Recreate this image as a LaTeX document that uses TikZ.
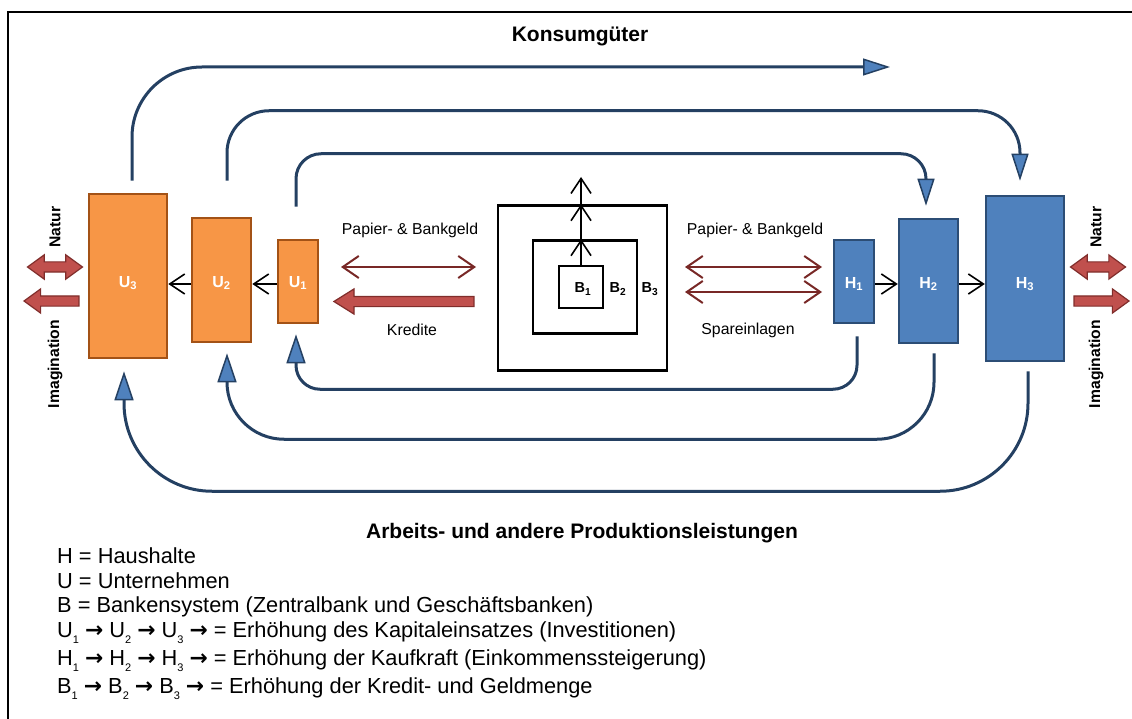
\documentclass[tikz,border=0pt]{standalone}
\usepackage{fontspec}
\setmainfont{Liberation Sans}
\newfontfamily\arrowfont{DejaVu Sans}
\usetikzlibrary{positioning, arrows.meta, calc, shapes.arrows}
\definecolor{ufill}{RGB}{247,150,70}
\definecolor{uline}{RGB}{163,82,22}
\definecolor{hfill}{RGB}{79,129,189}
\definecolor{hline}{RGB}{44,77,117}
\definecolor{loopblue}{RGB}{36,64,98}
\definecolor{moneyred}{RGB}{120,40,38}
\definecolor{blockred}{RGB}{192,80,77}
\definecolor{blockline}{RGB}{128,45,43}
\newcommand\lowsub[1]{\raisebox{-6.5pt}{\fontsize{11}{11}\selectfont #1}}
\newcommand\rarr{{\arrowfont\bfseries →}}

\begin{document}
\begin{tikzpicture}[x=1pt, y=-1pt,
  ubox/.style={draw=uline, fill=ufill, line width=2.5pt, inner sep=0pt, text=white,
               font=\fontsize{16}{16}\selectfont\bfseries},
  hbox/.style={ubox, draw=hline, fill=hfill},
  bbox/.style={draw, line width=2.5pt, inner sep=0pt},
  blabel/.style={font=\fontsize{14.5}{15}\selectfont\bfseries},
  boxlabel/.style={text=white, font=\fontsize{16}{16}\selectfont\bfseries},
  money/.style={moneyred, line width=2pt,
                {Straight Barb[length=16pt,width=22pt]}-{Straight Barb[length=16pt,width=22pt]}},
  growarrow/.style={line width=1.6pt, -{Straight Barb[length=15pt,width=20pt]}},
  loopline/.style={loopblue, line width=3pt,
                   -{Triangle[length=27pt,width=17pt,fill=hfill,line width=1.5pt]}},
  backloop/.style={loopline, -{Triangle[length=29pt,width=19pt,fill=hfill,line width=1.5pt]}},
  natarrow/.style={draw=blockline, fill=blockred, line width=1.2pt, inner xsep=0pt,
                   inner ysep=4.5pt, minimum height=55pt},
  dblock/.style={natarrow, double arrow, double arrow head extend=7pt, double arrow tip angle=72},
  sblock/.style={natarrow, single arrow, single arrow head extend=7pt, single arrow tip angle=72},
  side/.style={rotate=90, font=\fontsize{15.7}{16}\selectfont\bfseries},
  flowlabel/.style={font=\fontsize{15.8}{18}\selectfont},
  heading/.style={anchor=base, font=\fontsize{21}{25}\selectfont\bfseries},
  legend/.style={anchor=base west, inner sep=0pt, font=\fontsize{21.8}{25}\selectfont}
]
  \useasboundingbox (0,0) rectangle (1132,719);
  \draw[line width=2pt] (8,719) -- (8,12) -- (1132,12);

  % Unternehmen
  \node[ubox, minimum width=78, minimum height=164] (u3) at (128,276) {};
  \node[ubox, minimum width=59, minimum height=124] (u2) at (221.5,280) {};
  \node[ubox, minimum width=40, minimum height=83] (u1) at (298,281.5) {};
  \node[boxlabel] (u3label) at (128,283) {U\textsubscript{3}};
  \node[boxlabel] (u2label) at (221.5,283) {U\textsubscript{2}};
  \node[boxlabel] (u1label) at (298,283) {U\textsubscript{1}};
  % Haushalte
  \node[hbox, minimum width=40, minimum height=83] (h1) at (854,281.5) {};
  \node[hbox, minimum width=59, minimum height=124] (h2) at (928.5,281) {};
  \node[hbox, minimum width=78, minimum height=165] (h3) at (1025,278.5) {};
  \node[boxlabel] (h1label) at (854,284) {H\textsubscript{1}};
  \node[boxlabel] (h2label) at (928.5,284) {H\textsubscript{2}};
  \node[boxlabel] (h3label) at (1025,284) {H\textsubscript{3}};
  % Banken
  \node[bbox, minimum width=169, minimum height=165] (b3) at (582.5,288) {};
  \node[bbox, minimum width=104, minimum height=93] (b2) at (585,287) {};
  \node[bbox, minimum width=44, minimum height=42] (b1) at (581,287) {};
  \node[blabel] (b1label) at (583,289) {B\textsubscript{1}};
  \node[blabel] (b2label) at (618,289) {B\textsubscript{2}};
  \node[blabel] (b3label) at (650,289) {B\textsubscript{3}};
  \coordinate (bankout) at (581,177);

  \draw[growarrow] (b1.north) -- (b1.north |- b2.north);
  \draw[growarrow] (b1.north |- b2.north) -- (b1.north |- b3.north);
  \draw[growarrow] (b1.north |- b3.north) -- (bankout);

  \draw[growarrow] ([yshift=-2.5pt]u1.west) -- ([yshift=-2.5pt]u1.west -| u2.east);
  \draw[growarrow] ([yshift=-4pt]u2.west) -- ([yshift=-4pt]u2.west -| u3.east);
  \draw[growarrow] ([yshift=-2.5pt]h1.east) -- ([yshift=-2.5pt]h1.east -| h2.west);
  \draw[growarrow] ([yshift=-3pt]h2.east) -- ([yshift=-3pt]h2.east -| h3.west);

  % Geldstroeme
  \node[flowlabel] (geldL) at (410,230) {Papier- \& Bankgeld};
  \node[flowlabel] (kredite) at (412,330) {Kredite};
  \node[flowlabel] (geldR) at (755,230) {Papier- \& Bankgeld};
  \node[flowlabel] (spar) at (748,330) {Spareinlagen};
  \coordinate (ml1) at (341,267);
  \coordinate (ml2) at (476,267);
  \coordinate (mr1) at (685,267);
  \coordinate (mr2) at (822,267);
  \coordinate (mr3) at (685,292);
  \coordinate (mr4) at (822,292);
  \draw[money] (ml1) -- (ml2);
  \draw[money] (mr1) -- (mr2);
  \draw[money] (mr3) -- (mr4);
  \node[sblock, minimum height=140pt, single arrow head extend=7.5pt, single arrow tip angle=64,
        shape border rotate=180] (kreditarrow) at (408,301.5) {};

  % Natur und Imagination
  \node[dblock] (naturL) at (55,267) {};
  \node[sblock, shape border rotate=180] (imagL) at (55,301) {};
  \node[dblock] (naturR) at (1098,267) {};
  \node[sblock] (imagR) at (1098,301) {};
  \node[side] (naturLtext) at (55,227) {Natur};
  \node[side] (imagLtext) at (55,364) {Imagination};
  \node[side] (naturRtext) at (1096,227) {Natur};
  \node[side] (imagRtext) at (1096,364) {Imagination};

  % Kreislaeufe
  \coordinate (konsum) at (890,67);
  \node[heading] (konsumlabel) at (580,42) {Konsumgüter};
  \draw[loopline, rounded corners=70] ($(u3.north)+(4,-12)$) |- (konsum);
  \draw[loopline, rounded corners=42] ($(u2.north)+(5.5,-36)$) -- ++(0,-70) -| ($(h3.north)+(-5,-14)$);
  \draw[loopline, rounded corners=25] ($(u1.north)+(-2,-32)$) -- ++(0,-53) -| ($(h2.north)+(-2.5,-12)$);
  \draw[backloop, rounded corners=24] ($(h1.south)+(3,12)$) -- ++(0,53) -| ($(u1.south)+(-2,10)$);
  \draw[backloop, rounded corners=57] ($(h2.south)+(5.5,9)$) -- ++(0,86) -| ($(u2.south)+(5.5,10)$);
  \draw[backloop, rounded corners=88] ($(h3.south)+(3,9)$) -- ++(0,120) -| ($(u3.south)+(-4,12)$);
  \node[heading] (arbeit) at (582,538) {Arbeits- und andere Produktionsleistungen};

  % Legende
  \node[legend] (leg1) at (57,563) {H = Haushalte};
  \node[legend] (leg2) at (57,588) {U = Unternehmen};
  \node[legend] (leg3) at (57,612) {B = Bankensystem (Zentralbank und Geschäftsbanken)};
  \node[legend] (leg4) at (57,637) {U\lowsub{1} \rarr{} U\lowsub{2} \rarr{} U\lowsub{3} \rarr{} = Erhöhung des Kapitaleinsatzes (Investitionen)};
  \node[legend] (leg5) at (57,665) {H\lowsub{1} \rarr{} H\lowsub{2} \rarr{} H\lowsub{3} \rarr{} = Erhöhung der Kaufkraft (Einkommenssteigerung)};
  \node[legend] (leg6) at (57,693) {B\lowsub{1} \rarr{} B\lowsub{2} \rarr{} B\lowsub{3} \rarr{} = Erhöhung der Kredit- und Geldmenge};
\end{tikzpicture}
\end{document}
